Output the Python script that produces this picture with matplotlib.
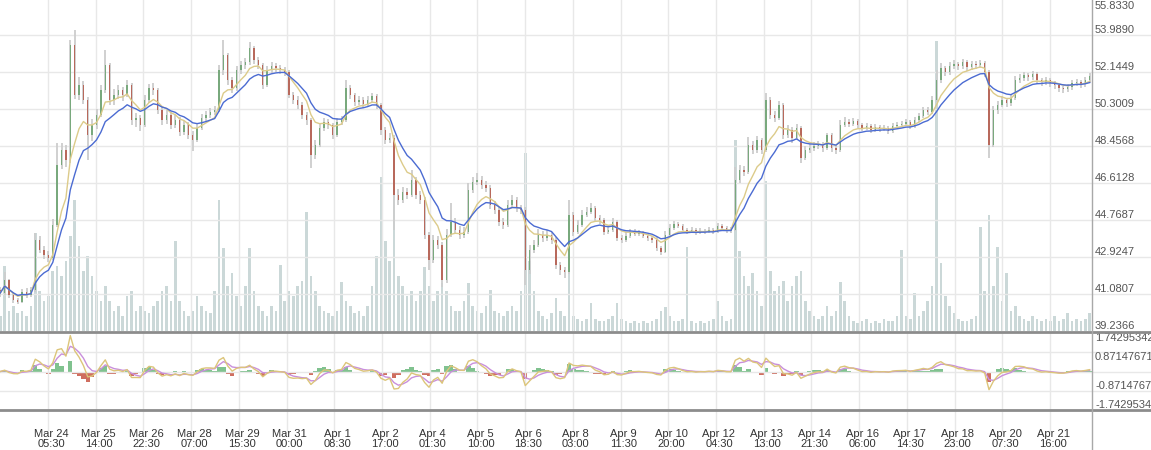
import numpy as np
import pandas as pd
import matplotlib
matplotlib.use("Agg")
import matplotlib.pyplot as plt
import matplotlib.dates as mdates
from matplotlib import transforms
from matplotlib.lines import Line2D

# 3-hour candles, Mar 22 21:00 -> Apr 22 19:00
open0 = 41.30
closes = [
    41.13, 41.77, 41.03, 40.78, 40.68, 41.18, 41.03, 41.28, 43.77, 43.27,
    43.02, 42.87, 44.52, 47.51, 48.25, 47.76, 53.49, 51.00, 51.49, 50.75,
    49.00, 49.50, 50.00, 51.24, 52.49, 50.75, 51.00, 51.24, 51.00, 51.49,
    49.75, 49.85, 49.50, 50.75, 51.34, 51.24, 50.25, 49.75, 50.00, 49.50,
    49.75, 49.15, 49.50, 49.00, 48.75, 49.35, 49.85, 50.00, 50.15, 50.25,
    52.24, 52.99, 51.74, 51.34, 52.24, 52.49, 52.64, 53.34, 52.74, 52.49,
    51.49, 52.24, 52.44, 52.34, 52.24, 52.14, 51.00, 50.75, 50.50, 50.00,
    49.75, 48.00, 48.50, 49.35, 49.65, 49.50, 49.00, 49.65, 49.75, 51.34,
    51.00, 50.65, 50.75, 50.55, 50.75, 50.95, 50.50, 49.25, 48.75, 48.85,
    46.01, 45.76, 46.16, 46.01, 46.76, 46.01, 45.76, 44.02, 42.77, 43.77,
    43.52, 41.77, 44.02, 44.67, 44.27, 44.02, 44.17, 46.26, 46.66, 46.76,
    46.51, 46.36, 45.51, 45.26, 44.67, 44.52, 45.51, 45.76, 45.36, 45.26,
    42.27, 43.27, 43.52, 44.02, 43.87, 44.02, 43.77, 42.52, 42.27, 42.17,
    45.01, 44.17, 44.52, 45.01, 45.16, 45.36, 44.86, 44.77, 44.17, 44.27,
    44.67, 43.87, 43.77, 43.97, 44.17, 44.07, 44.12, 43.97, 43.87, 43.77,
    43.37, 43.17, 44.02, 44.37, 44.57, 44.47, 44.27, 44.17, 44.27, 44.12,
    44.22, 44.17, 44.27, 44.17, 44.47, 44.37, 44.22, 44.27, 46.76, 47.26,
    47.16, 48.50, 48.25, 48.75, 48.25, 50.75, 50.00, 49.85, 50.50, 49.00,
    49.25, 48.85, 49.35, 47.85, 48.25, 48.35, 48.45, 48.50, 48.35, 49.00,
    48.35, 48.25, 49.50, 49.65, 49.55, 49.70, 49.50, 49.35, 49.45, 49.25,
    49.40, 49.30, 49.35, 49.20, 49.45, 49.50, 49.55, 49.65, 49.45, 49.75,
    49.95, 50.25, 50.15, 50.75, 51.74, 52.34, 52.14, 52.44, 52.54, 52.44,
    52.64, 52.39, 52.54, 52.49, 52.59, 52.14, 48.50, 50.25, 50.50, 50.75,
    50.60, 50.85, 51.74, 51.84, 51.99, 51.89, 52.04, 51.74, 51.64, 51.74,
    51.59, 51.49, 51.34, 51.29, 51.39, 51.59, 51.64, 51.54, 51.74, 51.94,
]
highs = [
    41.45, 42.17, 41.85, 41.15, 40.90, 41.35, 41.40, 41.45, 44.10, 43.95,
    43.45, 43.20, 44.80, 48.60, 48.60, 48.50, 53.74, 54.23, 51.90, 51.70,
    50.90, 49.80, 50.30, 51.50, 53.24, 52.60, 51.30, 51.50, 51.40, 51.74,
    51.60, 50.10, 50.00, 51.00, 51.55, 51.60, 51.35, 50.40, 50.25, 50.15,
    50.00, 49.90, 49.70, 49.65, 49.20, 49.55, 50.05, 50.20, 50.35, 50.45,
    52.50, 53.74, 53.10, 51.90, 52.45, 52.70, 52.85, 53.64, 53.45, 52.90,
    52.60, 52.45, 52.65, 52.60, 52.50, 52.40, 52.25, 51.15, 50.95, 50.65,
    50.15, 49.85, 48.75, 49.55, 49.85, 49.80, 49.60, 49.85, 49.95, 51.74,
    51.50, 51.10, 50.95, 50.90, 50.95, 51.10, 51.05, 50.60, 49.40, 49.10,
    49.00, 46.30, 46.40, 46.35, 47.26, 46.90, 46.20, 45.90, 44.15, 44.00,
    43.95, 43.65, 44.30, 45.61, 44.85, 44.45, 44.40, 46.60, 46.90, 47.11,
    46.95, 46.70, 46.50, 45.70, 45.40, 44.85, 45.75, 46.00, 45.90, 45.50,
    45.40, 43.50, 43.75, 44.30, 44.20, 44.25, 44.15, 43.90, 42.70, 42.45,
    45.76, 45.15, 44.75, 45.25, 45.40, 45.61, 45.45, 45.00, 44.85, 44.45,
    44.85, 44.75, 44.00, 44.15, 44.30, 44.30, 44.25, 44.20, 44.05, 43.95,
    43.90, 43.45, 44.20, 44.55, 44.70, 44.65, 44.55, 44.35, 44.40, 44.35,
    44.35, 44.30, 44.40, 44.35, 44.60, 44.55, 44.45, 44.40, 47.41, 47.50,
    47.45, 48.90, 48.70, 48.95, 48.85, 51.10, 50.90, 50.20, 50.70, 50.60,
    49.50, 49.40, 49.55, 49.45, 48.45, 48.55, 48.65, 48.70, 48.65, 49.10,
    49.10, 48.50, 49.75, 49.90, 49.80, 49.85, 49.80, 49.60, 49.60, 49.55,
    49.55, 49.50, 49.50, 49.45, 49.60, 49.65, 49.70, 49.80, 49.75, 49.90,
    50.10, 50.40, 50.40, 50.95, 52.24, 52.60, 52.45, 52.65, 52.74, 52.65,
    52.80, 52.74, 52.70, 52.69, 52.74, 52.69, 52.25, 50.45, 50.70, 50.95,
    50.85, 51.05, 51.95, 52.05, 52.15, 52.10, 52.20, 52.15, 51.85, 51.90,
    51.85, 51.70, 51.55, 51.45, 51.55, 51.75, 51.80, 51.75, 51.90, 52.10,
]
lows = [
    40.95, 41.05, 40.90, 40.65, 40.60, 40.62, 40.90, 40.95, 41.20, 43.10,
    42.85, 42.70, 42.80, 44.40, 47.30, 47.40, 47.60, 50.80, 50.75, 50.55,
    47.76, 48.70, 49.30, 49.90, 51.10, 50.50, 50.50, 50.80, 50.70, 50.90,
    49.50, 49.40, 49.20, 49.40, 50.60, 51.00, 50.05, 49.50, 49.55, 49.30,
    49.35, 48.95, 49.00, 48.80, 48.20, 48.65, 49.25, 49.70, 49.85, 50.00,
    50.15, 52.00, 51.50, 51.10, 51.20, 52.05, 52.30, 52.50, 52.55, 52.30,
    51.30, 51.40, 52.10, 52.15, 52.05, 51.95, 50.85, 50.55, 50.30, 49.80,
    49.50, 47.36, 47.80, 48.40, 49.20, 49.30, 48.80, 48.90, 49.50, 49.65,
    50.80, 50.45, 50.50, 50.35, 50.40, 50.60, 50.30, 49.00, 48.55, 48.60,
    44.27, 45.50, 45.60, 45.80, 45.90, 45.80, 45.55, 43.80, 42.27, 42.65,
    43.30, 41.43, 41.65, 43.90, 44.05, 43.80, 43.85, 44.05, 46.10, 46.50,
    46.30, 46.15, 45.30, 45.05, 44.45, 44.30, 44.40, 45.40, 45.15, 45.05,
    41.53, 42.10, 43.10, 43.40, 43.65, 43.70, 43.55, 42.35, 42.05, 41.87,
    42.10, 43.95, 44.05, 44.40, 44.90, 45.05, 44.70, 44.55, 44.00, 44.05,
    44.15, 43.70, 43.60, 43.65, 43.85, 43.95, 43.95, 43.85, 43.70, 43.60,
    43.20, 43.02, 43.10, 43.95, 44.25, 44.35, 44.15, 44.05, 44.10, 44.00,
    44.05, 44.05, 44.10, 44.05, 44.10, 44.25, 44.10, 44.10, 44.20, 46.60,
    46.95, 47.05, 48.05, 48.10, 48.05, 48.15, 49.80, 49.65, 49.75, 48.80,
    48.85, 48.60, 48.75, 47.61, 47.75, 48.10, 48.20, 48.30, 48.15, 48.25,
    48.15, 48.05, 48.15, 49.40, 49.40, 49.45, 49.35, 49.20, 49.25, 49.10,
    49.15, 49.15, 49.20, 49.05, 49.10, 49.35, 49.40, 49.45, 49.30, 49.35,
    49.65, 49.85, 50.00, 50.05, 50.65, 51.60, 51.95, 52.00, 52.30, 52.25,
    52.30, 52.20, 52.25, 52.30, 52.35, 51.90, 47.85, 48.40, 50.05, 50.40,
    50.40, 50.45, 50.75, 51.60, 51.70, 51.70, 51.75, 51.55, 51.45, 51.50,
    51.40, 51.30, 51.15, 51.10, 51.15, 51.25, 51.45, 51.35, 51.40, 51.60,
]
volumes = [
    15, 65, 20, 25, 18, 20, 15, 25, 98, 40,
    30, 35, 60, 65, 55, 70, 95, 131, 85, 60,
    75, 55, 40, 30, 45, 30, 20, 25, 15, 35,
    40, 20, 25, 20, 18, 25, 30, 40, 45, 30,
    90, 30, 20, 15, 20, 35, 25, 20, 18, 40,
    131, 83, 45, 58, 35, 25, 45, 83, 40, 25,
    20, 15, 25, 20, 66, 30, 40, 35, 45, 50,
    119, 55, 40, 25, 20, 18, 15, 20, 49, 30,
    25, 18, 20, 15, 25, 45, 75, 154, 90, 70,
    151, 55, 45, 35, 40, 30, 40, 64, 45, 30,
    40, 48, 40, 25, 20, 20, 30, 48, 25, 20,
    18, 25, 41, 20, 18, 15, 20, 25, 20, 40,
    178, 70, 40, 20, 15, 12, 18, 33, 20, 15,
    100, 15, 12, 10, 12, 28, 12, 10, 10, 12,
    15, 28, 12, 10, 8, 10, 8, 10, 8, 10,
    12, 20, 24, 15, 10, 10, 12, 84, 10, 8,
    10, 8, 10, 12, 30, 15, 10, 12, 191, 80,
    55, 45, 58, 40, 25, 150, 60, 40, 45, 50,
    30, 45, 55, 60, 30, 20, 15, 12, 15, 25,
    15, 20, 49, 30, 15, 10, 8, 10, 12, 8,
    10, 8, 12, 10, 10, 15, 81, 15, 12, 38,
    15, 20, 30, 45, 290, 68, 35, 25, 18, 12,
    10, 10, 12, 15, 104, 40, 116, 45, 84, 30,
    58, 20, 25, 15, 12, 10, 15, 12, 10, 12,
    10, 15, 10, 12, 18, 10, 12, 10, 12, 18,
]

price_ticks = [39.2366, 41.0807, 42.9247, 44.7687, 46.6128,
               48.4568, 50.3009, 52.1449, 53.9890, 55.8330]
macd_ticks = [1.74295342, 0.87147671, -0.87147671, -1.74295342]
macd_labels = ['1.74295342', '0.87147671', '-0.8714767', '-1.7429534']
time_ticks = ['Mar 24 05:30', 'Mar 25 14:00', 'Mar 26 22:30', 'Mar 28 07:00',
              'Mar 29 15:30', 'Mar 31 00:00', 'Apr 1 08:30', 'Apr 2 17:00',
              'Apr 4 01:30', 'Apr 5 10:00', 'Apr 6 18:30', 'Apr 8 03:00',
              'Apr 9 11:30', 'Apr 10 20:00', 'Apr 12 04:30', 'Apr 13 13:00',
              'Apr 14 21:30', 'Apr 16 06:00', 'Apr 17 14:30', 'Apr 18 23:00',
              'Apr 20 07:30', 'Apr 21 16:00']

plt.rcParams['font.family'] = ['Liberation Sans', 'DejaVu Sans']

W, H = 1151, 450
fig = plt.figure(figsize=(W / 100, H / 100), dpi=100)


def px_axes(top, bottom):
    return fig.add_axes([0, 1 - bottom / H, 1, (bottom - top) / H])


ax = px_axes(0, 331)
axm = px_axes(333, 410)

times = pd.date_range('2017-03-22 21:00', '2017-04-22 19:00', periods=len(closes))
x = mdates.date2num(times.to_pydatetime())
step = x[1] - x[0]
tick_x = mdates.date2num(pd.to_datetime(['2017 ' + t for t in time_ticks],
                                        format='%Y %b %d %H:%M').to_pydatetime())
# first tick sits 48px from the left, last one at 1050px
day_per_px = (tick_x[-1] - tick_x[0]) / (1050 - 48)
x_left = tick_x[0] - 48 * day_per_px
x_right = x_left + W * day_per_px

c = np.array(closes)
o = np.r_[open0, c[:-1]]
hi = np.array(highs)
lo = np.array(lows)
vol = np.array(volumes)

grid_c = '#e8e8e8'

# volume behind the candles
axv = ax.twinx()
axv.bar(x, vol, width=step * 0.6, color='#cbd8d8', lw=0)
axv.set_ylim(0, 331)
axv.set_yticks([])
for s in axv.spines.values():
    s.set_visible(False)
ax.set_zorder(axv.get_zorder() + 1)
ax.patch.set_visible(False)

# candles
up = c >= o
ax.vlines(x, lo, hi, color='#cdcdcd', lw=1.3, zorder=2)
body = np.maximum(np.abs(c - o), 0.04)
ax.bar(x, body, bottom=np.minimum(o, c), width=step * 0.32,
       color=np.where(up, '#79a97d', '#b8695c'), lw=0, zorder=3)

cs = pd.Series(c)
ax.plot(x, cs.ewm(span=7).mean(), color='#dccb8a', lw=1, zorder=4)
ax.plot(x, cs.ewm(span=12).mean(), color='#4b6bd2', lw=1, zorder=5)

ax.set_xlim(x_left, x_right)
ax.set_ylim(price_ticks[0], price_ticks[0] + (price_ticks[1] - price_ticks[0]) * 331 / 37)
ax.set_yticks(price_ticks[1:-1])
ax.set_xticks(tick_x)
ax.grid(True, color=grid_c, lw=1)
ax.tick_params(length=0, labelbottom=False, labelleft=False)
for s in ax.spines.values():
    s.set_visible(False)

lab_tr = transforms.blended_transform_factory(ax.transAxes, ax.transData)
for v in price_ticks[:-1]:
    ax.text(1095 / W, v, f'{v:.4f}', transform=lab_tr, fontsize=8, color='#555555',
            ha='left', va='bottom')
ax.text(1095 / W, 0.997, f'{price_ticks[-1]:.4f}', transform=ax.transAxes,
        fontsize=8, color='#555555', ha='left', va='top')

# MACD panel
ema_fast = cs.ewm(span=2.3).mean()
ema_slow = cs.ewm(span=4.0).mean()
macd = ema_fast - ema_slow
signal = macd.ewm(span=3.5).mean()
hist = macd - signal
axm.bar(x, hist, width=step, color=np.where(hist >= 0, '#80c28f', '#cf6e60'), lw=0)
axm.plot(x, signal, color='#c98fdc', lw=1)
axm.plot(x, macd, color='#dcc57a', lw=1)
axm.set_xlim(x_left, x_right)
axm.set_ylim(macd_ticks[-1], macd_ticks[0])
axm.set_yticks([macd_ticks[1], 0, macd_ticks[2]])
axm.set_xticks(tick_x)
axm.set_xticklabels(['{} {}\n{}'.format(*t.split(' ')) for t in time_ticks], linespacing=0.95)
axm.grid(True, color=grid_c, lw=1)
axm.tick_params(axis='y', length=0, labelleft=False)
axm.tick_params(axis='x', length=16, width=1, color=grid_c, pad=-2,
                labelsize=8, labelcolor='#333333')
shift = transforms.ScaledTranslation(0.03, 0, fig.dpi_scale_trans)
for lbl in axm.get_xticklabels():
    lbl.set_transform(lbl.get_transform() + shift)
for s in axm.spines.values():
    s.set_visible(False)

mtr = transforms.blended_transform_factory(axm.transAxes, axm.transData)
for v, t in zip(macd_ticks, macd_labels):
    axm.text(1095 / W, v, t, transform=mtr, fontsize=8, color='#555555', ha='left',
             va='top' if v > 0 else 'bottom')

# panel separators and right edge of the plotting area
for ypx in (332, 410):
    fig.add_artist(Line2D([0, 1], [1 - ypx / H] * 2, transform=fig.transFigure,
                          color='#8c8c8c', lw=2))
fig.add_artist(Line2D([1091.5 / W] * 2, [0, 1], transform=fig.transFigure,
                      color='#a8a8a8', lw=1))

fig.savefig('out.png', dpi=100)
